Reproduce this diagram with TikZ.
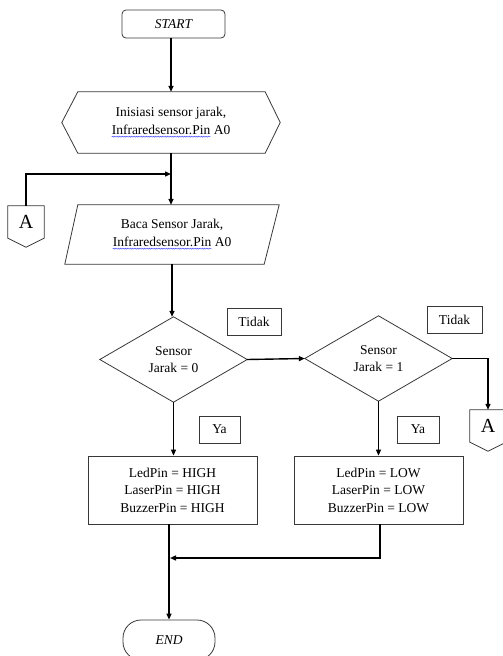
\documentclass[tikz,border=0pt]{standalone}
\usepackage{fontspec}
\setmainfont{Liberation Serif}
\usetikzlibrary{arrows.meta,decorations.pathmorphing}
% spell-check style wavy underline
\newcommand\wavyword[1]{\tikz[baseline=(ww.base)]{\node[inner sep=0pt,outer sep=0pt,minimum width=0pt,minimum height=0pt,anchor=base] (ww) at (0,0) {#1};
  \draw[blue!75,line width=0.45pt,decorate,decoration={snake,amplitude=0.55pt,segment length=2.4pt}]
    ([yshift=-2.2pt]ww.base west) -- ([yshift=-2.2pt]ww.base east);}}
\begin{document}
\begin{tikzpicture}[x=1pt,y=-1pt,
  outline/.style={draw=black!78,line width=0.8pt},
  flow/.style={line width=1.4pt,-{Triangle[length=6pt,width=5pt]}},
  link/.style={line width=1.4pt},
  txt/.style={font=\fontsize{13.5}{17.5}\selectfont,align=center,inner sep=0pt},
  tag/.style={outline,font=\fontsize{13.5}{15}\selectfont,minimum height=27pt,inner sep=0pt},
  box/.style={outline,txt,minimum width=169pt,minimum height=68pt},
  conn/.style={font=\fontsize{20}{20}\selectfont,inner sep=0pt,minimum width=36pt,minimum height=32pt},
]
\useasboundingbox (0,0) rectangle (503,656);

% terminals
\node[outline,rounded corners=4pt,minimum width=103pt,minimum height=28pt,
      font=\fontsize{13.5}{15}\selectfont\itshape] (start) at (173.5,24) {START};
\node[outline,rounded corners=18pt,minimum width=92pt,minimum height=40pt,
      font=\fontsize{13.5}{15}\selectfont\itshape] (end) at (169,640) {END};

% preparation (hexagon)
\node[txt,minimum width=218pt,minimum height=61pt] (init) at (171,122.5)
  {Inisiasi sensor jarak,\\\wavyword{Infraredsensor.Pin} A0};
\draw[outline] ([xshift=16pt]init.north west) -- ([xshift=-15pt]init.north east) -- (init.east)
  -- ([xshift=-15pt]init.south east) -- ([xshift=16pt]init.south west) -- (init.west) -- cycle;

% input (parallelogram)
\node[txt,minimum width=214pt,minimum height=59pt] (read) at (172,234.5)
  {Baca Sensor Jarak,\\\wavyword{Infraredsensor.Pin} A0};
\draw[outline] ([xshift=13pt]read.north west) -- (read.north east)
  -- ([xshift=-15pt]read.south east) -- (read.south west) -- cycle;

% decisions
\node[txt,minimum width=147pt,minimum height=85pt] (d1) at (173.5,359.5) {Sensor\\Jarak = 0};
\draw[outline] (d1.north) -- (d1.east) -- (d1.south) -- (d1.west) -- cycle;
\node[txt,minimum width=147pt,minimum height=85pt] (d2) at (378.5,358.5) {Sensor\\Jarak = 1};
\draw[outline] (d2.north) -- (d2.east) -- (d2.south) -- (d2.west) -- cycle;

% branch labels
\node[tag,minimum width=54pt] (t1) at (254,321.5) {Tidak};
\node[tag,minimum width=55pt] (t2) at (454.5,319.5) {Tidak};
\node[tag,minimum width=41pt] (y1) at (219.5,429.5) {Ya};
\node[tag,minimum width=42pt] (y2) at (418,429.5) {Ya};

% processes
\node[box] (b1) at (172.5,490) {LedPin = HIGH\\LaserPin = HIGH\\BuzzerPin = HIGH};
\node[box] (b2) at (378.5,490) {LedPin = LOW\\LaserPin = LOW\\BuzzerPin = LOW};

% off-page connectors
\node[conn] (a1) at (26,222) {A};
\draw[outline] (a1.south west) -- (a1.north west) -- (a1.north east) -- (a1.south east)
  -- ([yshift=-9pt]a1.south) -- cycle;
\node[conn] (a2) at (488,426) {A};
\draw[outline] (a2.south west) -- (a2.north west) -- (a2.north east) -- (a2.south east)
  -- ([yshift=-9pt]a2.south) -- cycle;

% junction points
\coordinate (j1) at (171,174);
\coordinate (j2) at (170,558);

% connectors
\draw[flow] (init.north |- start.south) -- (init.north);
\draw[flow] (init.south) -- (init.south |- read.north);
\draw[flow] (a1.north) |- (j1);
\draw[flow] (read.south) -- (read.south |- d1.north);
\draw[flow] (d1.east) -- (d2.west);
\draw[flow] (d2.east) -| (a2.north);
\draw[flow] (d1.south) -- (d1.south |- b1.north);
\draw[flow] (d2.south) -- (d2.south |- b2.north);
\draw[flow] (end.north |- b1.south) -- (end.north);
\draw[flow] ([xshift=1.5pt]b2.south) |- (j2);
\end{tikzpicture}
\end{document}
